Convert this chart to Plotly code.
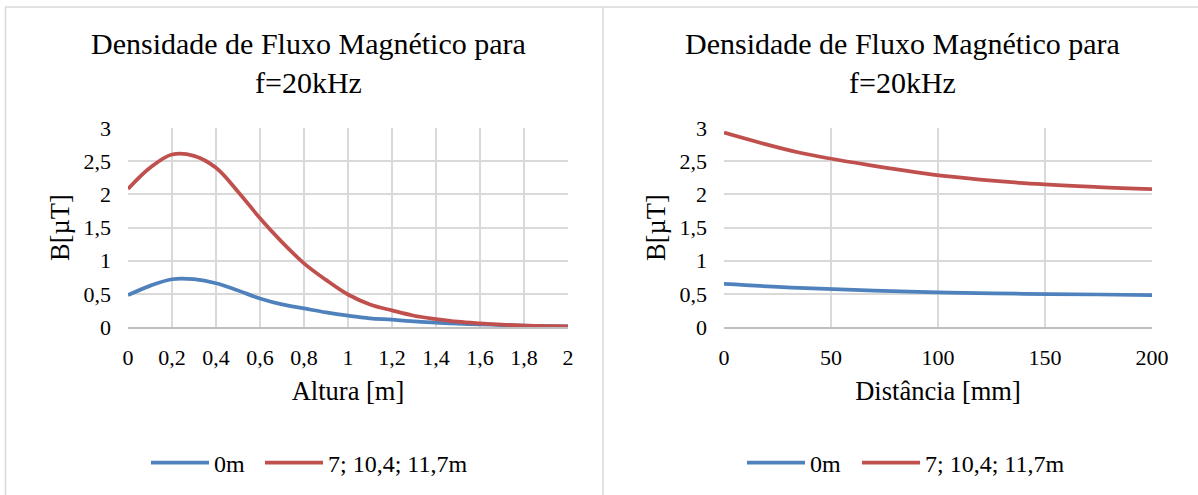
import plotly.graph_objects as go

# Magnetic flux density vs height (left) and vs distance (right), f = 20 kHz
altura_m = [0, 0.1, 0.2, 0.3, 0.4, 0.5, 0.6, 0.7, 0.8, 0.9, 1.0,
            1.1, 1.2, 1.3, 1.4, 1.5, 1.6, 1.7, 1.8, 1.9, 2.0]
b_altura_0m = [0.48, 0.62, 0.72, 0.72, 0.66, 0.55, 0.43, 0.34, 0.28, 0.22, 0.17,
               0.13, 0.11, 0.085, 0.065, 0.05, 0.04, 0.03, 0.02, 0.015, 0.01]
b_altura_7m = [2.08, 2.40, 2.60, 2.58, 2.40, 2.04, 1.64, 1.28, 0.96, 0.71, 0.49,
               0.34, 0.25, 0.17, 0.12, 0.08, 0.055, 0.035, 0.022, 0.015, 0.01]

distancia_mm = [0, 35, 70, 105, 140, 175, 200]
b_dist_0m = [0.65, 0.59, 0.55, 0.52, 0.50, 0.49, 0.48]
b_dist_7m = [2.93, 2.63, 2.43, 2.27, 2.17, 2.11, 2.08]

serie_nomes = ["0m", "7; 10,4; 11,7m"]
titulo = "Densidade de Fluxo Magnético para<br>f=20kHz"

y_ticks = [0, 0.5, 1, 1.5, 2, 2.5, 3]
y_tick_text = ["0", "0,5", "1", "1,5", "2", "2,5", "3"]
x1_ticks = [0, 0.2, 0.4, 0.6, 0.8, 1.0, 1.2, 1.4, 1.6, 1.8, 2.0]
x1_tick_text = ["0", "0,2", "0,4", "0,6", "0,8", "1", "1,2", "1,4", "1,6", "1,8", "2"]
x2_ticks = [0, 50, 100, 150, 200]
x2_tick_text = ["0", "50", "100", "150", "200"]

BLUE = "#4F81BD"
RED = "#C0504D"
GRID = "#D9D9D9"
FONT = "Liberation Serif"
W, H = 1198, 495

px = lambda v: v / W
py = lambda v: 1 - v / H

fig = go.Figure()
# one legend entry per box so each swatch sits at its own spot under its chart
for xs, ys, nome, cor, xa, ya, leg, leg_x in [
    (altura_m, b_altura_0m, serie_nomes[0], BLUE, "x", "y", "legend", 146),
    (altura_m, b_altura_7m, serie_nomes[1], RED, "x", "y", "legend2", 260),
    (distancia_mm, b_dist_0m, serie_nomes[0], BLUE, "x2", "y2", "legend3", 742),
    (distancia_mm, b_dist_7m, serie_nomes[1], RED, "x2", "y2", "legend4", 857),
]:
    fig.add_trace(go.Scatter(x=xs, y=ys, name=nome, mode="lines",
                             line=dict(color=cor, width=3.75, shape="spline", smoothing=1),
                             xaxis=xa, yaxis=ya, legend=leg))
    fig.update_layout({leg: dict(orientation="h", x=px(leg_x), xanchor="left",
                                 y=py(463), yanchor="middle",
                                 font=dict(family=FONT, size=24, color="#000"),
                                 bgcolor="rgba(0,0,0,0)", itemwidth=58)})

y_dom = [py(327), py(128)]
axis_common = dict(showgrid=True, gridcolor=GRID, gridwidth=1.5, zeroline=False,
                   ticks="", tickfont=dict(family=FONT, size=22, color="#000"),
                   fixedrange=True, automargin=False)
title_font = dict(family=FONT, size=26.5, color="#000")

fig.update_layout(
    width=W, height=H,
    margin=dict(l=0, r=0, t=0, b=0, autoexpand=False),
    paper_bgcolor="white", plot_bgcolor="white",
    font=dict(family=FONT, color="#000"),
    xaxis=dict(domain=[px(128), px(568)], range=[0, 2], tickvals=x1_ticks, ticktext=x1_tick_text,
               showline=True, linecolor="#BFBFBF", linewidth=1.5, ticklabelstandoff=10,
               title=dict(text="Altura [m]", font=title_font, standoff=12),
               anchor="y", **axis_common),
    yaxis=dict(domain=y_dom, range=[0, 3], tickvals=y_ticks, ticktext=y_tick_text,
               showline=False, ticklabelstandoff=16,
               title=dict(text="B[µT]", font=title_font, standoff=6),
               anchor="x", **axis_common),
    xaxis2=dict(domain=[px(724), px(1152)], range=[0, 200], tickvals=x2_ticks, ticktext=x2_tick_text,
                showline=True, linecolor="#BFBFBF", linewidth=1.5, ticklabelstandoff=10,
                title=dict(text="Distância [mm]", font=title_font, standoff=12),
                anchor="y2", **axis_common),
    yaxis2=dict(domain=y_dom, range=[0, 3], tickvals=y_ticks, ticktext=y_tick_text,
                showline=False, ticklabelstandoff=16,
                title=dict(text="B[µT]", font=title_font, standoff=6),
                anchor="x2", **axis_common),
    showlegend=True,
)

for cx in (308, 902):
    fig.add_annotation(text=titulo, x=px(cx), y=py(63), xref="paper", yref="paper",
                       xanchor="center", yanchor="middle", showarrow=False, align="center",
                       font=dict(family=FONT, size=30, color="#000"))

# chart frames
border = dict(color=GRID, width=1.5)
fig.add_shape(type="line", xref="paper", yref="paper", x0=px(5), x1=1, y0=py(7), y1=py(7), line=border)
fig.add_shape(type="line", xref="paper", yref="paper", x0=px(5.5), x1=px(5.5), y0=py(7), y1=0, line=border)
fig.add_shape(type="line", xref="paper", yref="paper", x0=px(603), x1=px(603), y0=py(7), y1=0, line=border)

# the page body carries no default margin, so the figure fills the window exactly
fig.write_html("out.html",
               post_script="document.body.style.margin='0';"
                           "document.documentElement.style.overflow='hidden';")
